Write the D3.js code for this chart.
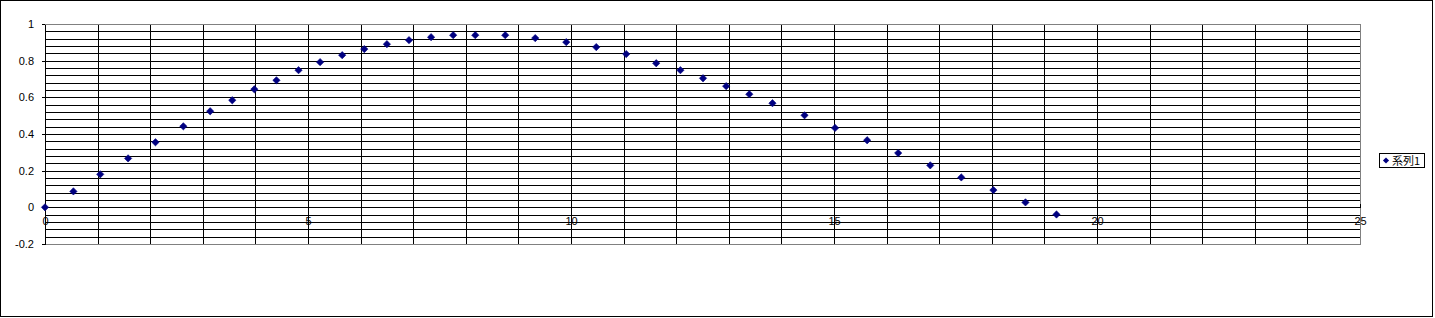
<!DOCTYPE html>
<html>
<head>
<meta charset="utf-8">
<script src="https://cdn.jsdelivr.net/npm/d3@7"></script>
<style>
    body { margin: 0; background: #fff; }
    svg { display: block; }
    text { font-family: "Liberation Sans", Arial, sans-serif; font-size: 11px; fill: #000; }
</style>
</head>
<body>
<div id="chart"></div>
<script>
// series values
const seriesName = "系列1"
const xValues = [0, 0.54, 1.05, 1.58, 2.10, 2.63, 3.14, 3.56, 3.98, 4.40, 4.82, 5.23, 5.65, 6.07, 6.50,
    6.92, 7.34, 7.76, 8.18, 8.75, 9.32, 9.91, 10.48, 11.05, 11.62, 12.08, 12.51, 12.95, 13.39, 13.83,
    14.44, 15.02, 15.63, 16.22, 16.83, 17.42, 18.03, 18.64, 19.23]
const yValues = [0, 0.087, 0.18, 0.267, 0.355, 0.442, 0.524, 0.584, 0.644, 0.693, 0.748, 0.792, 0.830, 0.863, 0.890,
    0.912, 0.928, 0.939, 0.939, 0.939, 0.923, 0.901, 0.874, 0.836, 0.786, 0.748, 0.704, 0.661, 0.617, 0.568,
    0.502, 0.433, 0.366, 0.296, 0.229, 0.163, 0.094, 0.027, -0.039]
const xTicks = [0, 5, 10, 15, 20, 25]
const yTicks = [-0.2, 0, 0.2, 0.4, 0.6, 0.8, 1]

const dataset = xValues.map((x, i) => ({X: x, Y: yValues[i]}))
const xAccessor = d => d["X"]
const yAccessor = d => d["Y"]

let dimensions = {
    width: 1435,
    height: 318,
    plot: {left: 45, right: 1360, top: 24, bottom: 244},
}

const wrapper = d3.select("#chart")
    .append("svg")
    .attr("width", dimensions.width)
    .attr("height", dimensions.height)

// outer chart frame
wrapper.append("rect")
    .attr("x", 0.5).attr("y", 0.5)
    .attr("width", 1432).attr("height", 316)
    .attr("fill", "#fff")
    .attr("stroke", "#000")

const bounds = wrapper.append("g").attr("shape-rendering", "crispEdges")

const xScale = d3.scaleLinear()
    .domain([0, 25])
    .range([dimensions.plot.left, dimensions.plot.right])
const yScale = d3.scaleLinear()
    .domain([-0.2, 1])
    .range([dimensions.plot.bottom, dimensions.plot.top])

const px = v => Math.round(v) + 0.5

// gridlines: minor every 0.04 on y, every 1 on x
const yGrid = d3.range(-0.2, 1.0001, 0.04)
const xGrid = d3.range(1, 25, 1)
bounds.append("g").selectAll("line")
    .data(yGrid)
    .join("line")
    .attr("x1", dimensions.plot.left).attr("x2", dimensions.plot.right)
    .attr("y1", d => px(yScale(d))).attr("y2", d => px(yScale(d)))
    .attr("stroke", "#000")
bounds.append("g").selectAll("line")
    .data(xGrid)
    .join("line")
    .attr("x1", d => px(xScale(d))).attr("x2", d => px(xScale(d)))
    .attr("y1", dimensions.plot.top).attr("y2", dimensions.plot.bottom)
    .attr("stroke", "#000")

// plot area border (grey)
bounds.append("rect")
    .attr("x", px(dimensions.plot.left)).attr("y", px(dimensions.plot.top))
    .attr("width", Math.round(dimensions.plot.right - dimensions.plot.left))
    .attr("height", Math.round(dimensions.plot.bottom - dimensions.plot.top))
    .attr("fill", "none")
    .attr("stroke", "#808080")

const fmt = d => String(+d.toFixed(1))

// y axis (d3 adds the half pixel itself)
const yAxis = bounds.append("g")
    .attr("transform", "translate(" + Math.round(dimensions.plot.left) + ",0)")
    .call(d3.axisLeft(yScale).tickValues(yTicks).tickFormat(fmt).tickSizeInner(3).tickSizeOuter(0).tickPadding(8))
yAxis.select(".domain").attr("stroke", "#000")
yAxis.selectAll(".tick line").attr("stroke", "#000")
yAxis.selectAll("text").attr("font-family", null).attr("font-size", null)

// x axis crosses at y = 0
const xAxis = bounds.append("g")
    .attr("transform", "translate(0," + Math.round(yScale(0)) + ")")
    .call(d3.axisBottom(xScale).tickValues(xTicks).tickFormat(fmt).tickSizeInner(-3).tickSizeOuter(0).tickPadding(10.5))
xAxis.select(".domain").attr("stroke", "#000")
xAxis.selectAll(".tick line").attr("stroke", "#000")
xAxis.selectAll("text").attr("font-family", null).attr("font-size", null)

// markers
const diamond = d3.symbol().type(d3.symbolDiamond2).size(34)
wrapper.append("g").selectAll("path")
    .data(dataset)
    .join("path")
    .attr("transform", d => "translate(" + xScale(xAccessor(d)) + "," + yScale(yAccessor(d)) + ")")
    .attr("d", diamond)
    .attr("fill", "#000080")
    .attr("stroke", "#000080")
    .attr("stroke-width", 0.6)

// legend
const legend = wrapper.append("g").attr("transform", "translate(1379,153)")
legend.append("rect")
    .attr("x", 0.5).attr("y", 0.5)
    .attr("width", 45).attr("height", 14)
    .attr("fill", "#fff")
    .attr("stroke", "#000")
    .attr("shape-rendering", "crispEdges")
legend.append("path")
    .attr("transform", "translate(7,7.5)")
    .attr("d", d3.symbol().type(d3.symbolDiamond2).size(24))
    .attr("fill", "#000080")
legend.append("text")
    .attr("x", 13)
    .attr("y", 11.5)
    .style("font-family", "'Noto Sans CJK JP', sans-serif")
    .style("font-size", "11px")
    .text(seriesName)
</script>
</body>
</html>
